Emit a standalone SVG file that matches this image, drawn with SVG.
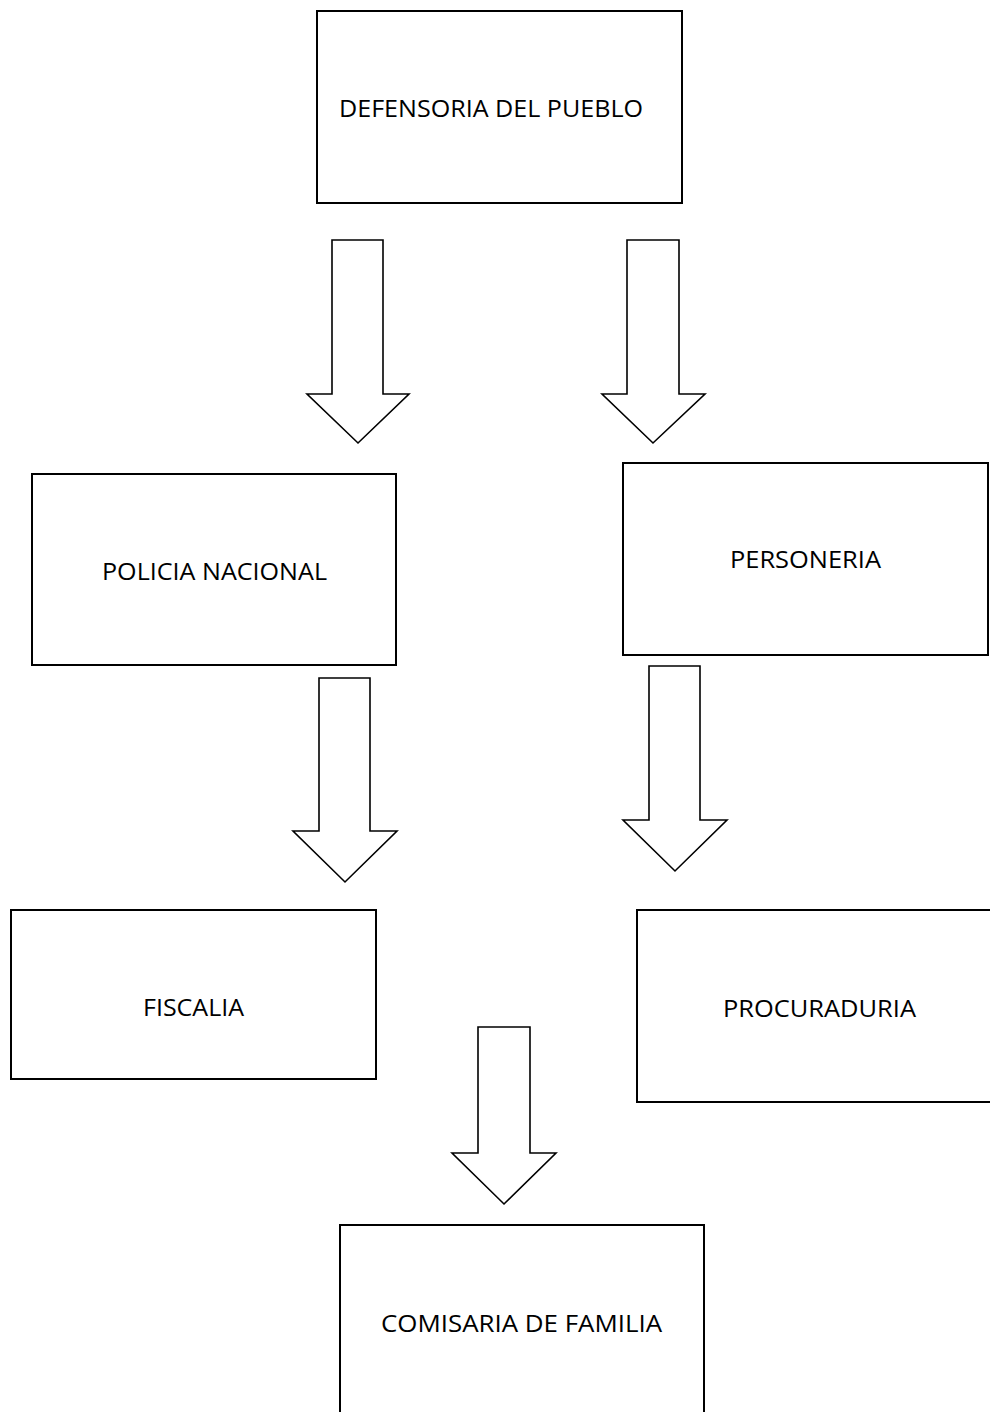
<svg xmlns="http://www.w3.org/2000/svg" width="990" height="1412" viewBox="0 0 990 1412">
<style>
.box{fill:#fff;stroke:#000;stroke-width:2}
.arr{fill:#fff;stroke:#000;stroke-width:1.6;stroke-linejoin:miter}
.lbl{font-family:"Open Sans","Noto Sans","Liberation Sans",sans-serif;font-size:24px;fill:#000}
</style>
<rect width="990" height="1412" fill="#fff"/>
<g id="connectors">
<polygon class="arr" points="332,240 383,240 383,394 409,394 358,443 307,394 332,394"/>
<polygon class="arr" points="627,240 679,240 679,394 705,394 653,443 602,394 627,394"/>
<polygon class="arr" points="319,678 370,678 370,831 397,831 345,882 293,831 319,831"/>
<polygon class="arr" points="649,666 700,666 700,820 727,820 675,871 623,820 649,820"/>
<polygon class="arr" points="478,1027 530,1027 530,1153 556,1153 504,1204 452,1153 478,1153"/>
</g>
<g id="defensoria">
<rect class="box" x="317" y="11" width="365" height="192"/>
<text class="lbl" x="339" y="117" textLength="304" lengthAdjust="spacingAndGlyphs">DEFENSORIA DEL PUEBLO</text>
</g>
<g id="policia">
<rect class="box" x="32" y="474" width="364" height="191"/>
<text class="lbl" x="102" y="580" textLength="225" lengthAdjust="spacingAndGlyphs">POLICIA NACIONAL</text>
</g>
<g id="personeria">
<rect class="box" x="623" y="463" width="365" height="192"/>
<text class="lbl" x="730" y="568" textLength="151" lengthAdjust="spacingAndGlyphs">PERSONERIA</text>
</g>
<g id="fiscalia">
<rect class="box" x="11" y="910" width="365" height="169"/>
<text class="lbl" x="143" y="1016" textLength="101" lengthAdjust="spacingAndGlyphs">FISCALIA</text>
</g>
<g id="procuraduria">
<rect class="box" x="637" y="910" width="380" height="192"/>
<text class="lbl" x="723" y="1017" textLength="193" lengthAdjust="spacingAndGlyphs">PROCURADURIA</text>
</g>
<g id="comisaria">
<rect class="box" x="340" y="1225" width="364" height="220"/>
<text class="lbl" x="381" y="1332" textLength="281" lengthAdjust="spacingAndGlyphs">COMISARIA DE FAMILIA</text>
</g>
</svg>
